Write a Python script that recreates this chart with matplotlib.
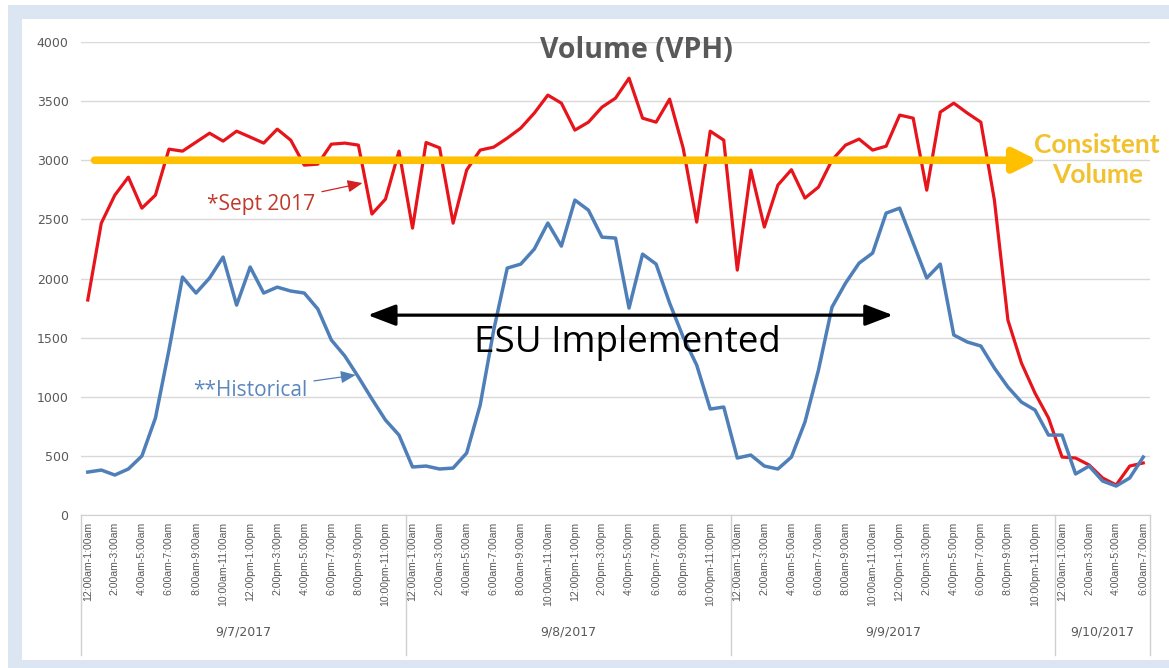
import matplotlib
matplotlib.use("Agg")
import matplotlib.pyplot as plt
from matplotlib.patches import Rectangle
from matplotlib.transforms import blended_transform_factory

# Hourly volumes (VPH), 9/7/2017 12am through 9/10/2017 7am
sept_2017 = [1818, 2468, 2705, 2857, 2595, 2705, 3094, 3077, 3153, 3229, 3162, 3246,
             3196, 3145, 3263, 3170, 2959, 2967, 3136, 3145, 3128, 2545, 2671, 3077,
             2426, 3150, 3105, 2468, 2917, 3086, 3111, 3187, 3272, 3399, 3551, 3483,
             3255, 3322, 3449, 3525, 3694, 3356, 3322, 3517, 3103, 2477, 3246, 3170,
             2071, 2917, 2435, 2790, 2920, 2680, 2773, 3001, 3128, 3179, 3086, 3119,
             3382, 3356, 2747, 3407, 3483, 3399, 3322, 2663, 1648, 1285, 1031, 820,
             490, 482, 423, 313, 254, 414, 440]
historical = [363, 380, 338, 389, 499, 820, 1395, 2012, 1877, 2004, 2181, 1775,
              2097, 1877, 1927, 1894, 1877, 1742, 1480, 1344, 1167, 981, 803, 676,
              406, 414, 389, 397, 524, 930, 1564, 2088, 2122, 2249, 2469, 2274,
              2663, 2578, 2350, 2342, 1750, 2206, 2122, 1792, 1505, 1268, 896, 913,
              482, 507, 414, 389, 490, 786, 1226, 1758, 1961, 2130, 2215, 2553,
              2595, 2300, 2004, 2122, 1522, 1463, 1429, 1243, 1082, 955, 888, 676,
              676, 347, 414, 287, 245, 313, 490]

hour_labels = ["12:00am-1:00am", "1:00am-2:00am", "2:00am-3:00am", "3:00am-4:00am",
               "4:00am-5:00am", "5:00am-6:00am", "6:00am-7:00am", "7:00am-8:00am",
               "8:00am-9:00am", "9:00am-10:00am", "10:00am-11:00am", "11:00am-12:00pm",
               "12:00pm-1:00pm", "1:00pm-2:00pm", "2:00pm-3:00pm", "3:00pm-4:00pm",
               "4:00pm-5:00pm", "5:00pm-6:00pm", "6:00pm-7:00pm", "7:00pm-8:00pm",
               "8:00pm-9:00pm", "9:00pm-10:00pm", "10:00pm-11:00pm", "11:00pm-12:00am"]
days = ["9/7/2017", "9/8/2017", "9/9/2017", "9/10/2017"]
hours_per_day = [24, 24, 24, 7]
consistent_volume = 3000

labels = []
for n in hours_per_day:
    labels += hour_labels[:n]
x = list(range(len(labels)))

fig = plt.figure(figsize=(11.69, 6.68), dpi=100)
fig.patch.set_facecolor("white")
# light blue frame around the chart
fig.patches.append(Rectangle((8 / 1169, 0), 1, 663 / 668, transform=fig.transFigure,
                             facecolor="#dce6f2", edgecolor="none", zorder=-2))
fig.patches.append(Rectangle((22 / 1169, 8 / 668), 1, 641 / 668, transform=fig.transFigure,
                             facecolor="white", edgecolor="none", zorder=-1))

ax = fig.add_axes([81 / 1169, 1 - 515 / 668, (1150 - 81) / 1169, 473 / 668])
ax.set_facecolor("none")

ax.plot(x, sept_2017, color="#e8141b", lw=2.3, zorder=3)
ax.plot(x, historical, color="#4f7fb8", lw=2.5, zorder=3)

ax.set_xlim(-0.5, len(x) - 0.5)
ax.set_ylim(0, 4000)
ax.set_yticks(range(0, 4001, 500))
ax.yaxis.grid(True, color="#d9d9d9", lw=1)
ax.set_axisbelow(True)
for s in ["top", "right", "left"]:
    ax.spines[s].set_visible(False)
ax.spines["bottom"].set_color("#d0d0d0")
ax.tick_params(axis="y", length=0, pad=9, labelsize=9, labelcolor="#595959")
ax.tick_params(axis="x", length=0, pad=5)
ax.set_xticks(x[::2])
ax.set_xticklabels(labels[::2], rotation=90, fontsize=7.6, color="#595959",
                   family="Liberation Sans", va="top", ha="center")

# day groups below the hour labels
tr = blended_transform_factory(ax.transData, ax.transAxes)
start = 0
edges = [-0.5]
for d, n in zip(days, hours_per_day):
    edges.append(start + n - 0.5)
    ax.text(start + (n - 1) / 2, -0.247, d, transform=tr, ha="center", va="center",
            fontsize=9, color="#595959")
    start += n
for e in edges:
    ax.plot([e, e], [0, -0.296], transform=tr, color="#d0d0d0", lw=1, clip_on=False)

# consistent volume arrow
ax.annotate("", xy=(70.2, consistent_volume), xytext=(0.5, consistent_volume),
            arrowprops=dict(arrowstyle="-|>,head_length=1.4,head_width=0.7",
                            mutation_scale=10, color="#ffc000", lw=5.5,
                            shrinkA=0, shrinkB=0), zorder=4)
ax.text(74.6, consistent_volume, "Consistent\nVolume", ha="center", va="center",
        fontsize=19, fontweight="bold", color="#f2c12e", family="Lato",
        linespacing=1.3, clip_on=False)

# ESU implemented arrow
ax.annotate("", xy=(59.5, 1690), xytext=(20.7, 1690),
            arrowprops=dict(arrowstyle="<|-|>,head_length=1.7,head_width=0.65",
                            mutation_scale=10, color="black", lw=2.3,
                            shrinkA=0, shrinkB=0), zorder=4)
ax.text(39.9, 1454, "ESU Implemented", ha="center", va="center", fontsize=26.5,
        color="black", family="Open Sans")

# series callouts
ax.annotate("*Sept 2017", xy=(20.3, 2807), xytext=(16.8, 2625), ha="right", va="center",
            fontsize=15, color="#c0392b", family="Open Sans",
            arrowprops=dict(arrowstyle="-|>,head_length=0.6,head_width=0.25",
                            color="#d42020", lw=0.9, shrinkA=3, shrinkB=0))
ax.annotate("**Historical", xy=(19.8, 1184), xytext=(16.2, 1057), ha="right", va="center",
            fontsize=15, color="#5b86bd", family="Open Sans",
            arrowprops=dict(arrowstyle="-|>,head_length=0.6,head_width=0.25",
                            color="#4f7fb8", lw=0.9, shrinkA=3, shrinkB=0))

fig.text(636 / 1169, 1 - 50 / 668, "Volume (VPH)", ha="center", va="center",
         fontsize=20.5, fontweight="bold", color="#595959", family="Open Sans")

fig.savefig("out.png", dpi=100)
